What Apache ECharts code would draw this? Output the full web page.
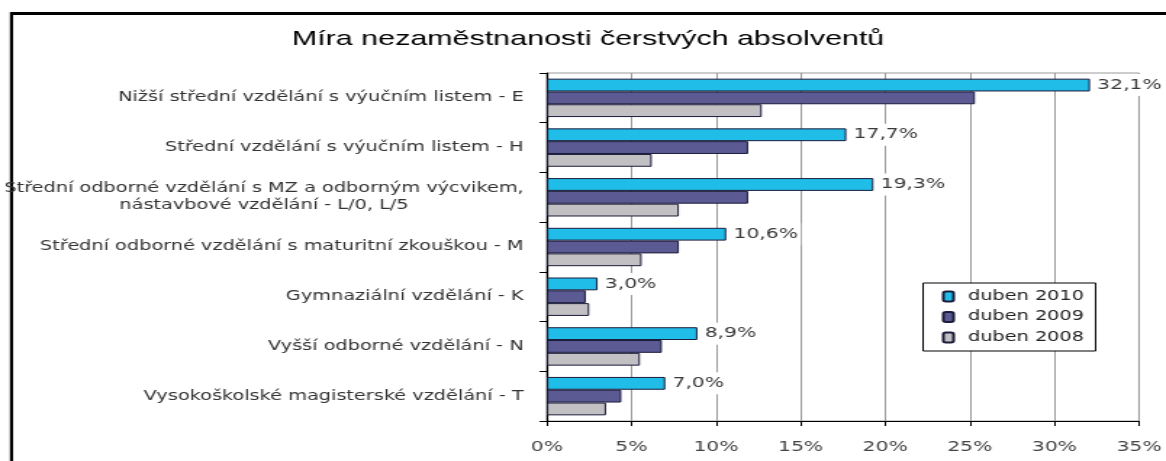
<!DOCTYPE html>
<html>
<head>
<meta charset="utf-8">
<script src="https://cdn.jsdelivr.net/npm/echarts@6/dist/echarts.min.js"></script>
<style>
  html, body { margin: 0; padding: 0; background: #fff; overflow: hidden; }
  /* the chart is laid out narrow and widened horizontally */
  #chart { width: 804px; height: 461px; transform: scaleX(1.4502); transform-origin: 0 0; }
</style>
</head>
<body>
<div id="chart"></div>
<script>
const titleText = 'Míra nezaměstnanosti čerstvých absolventů';
const categories = [
  'Nižší střední vzdělání s výučním listem - E',
  'Střední vzdělání s výučním listem - H',
  'Střední odborné vzdělání s MZ a odborným výcvikem,\nnástavbové vzdělání - L/0, L/5',
  'Střední odborné vzdělání s maturitní zkouškou - M',
  'Gymnaziální vzdělání - K',
  'Vyšší odborné vzdělání - N',
  'Vysokoškolské magisterské vzdělání - T'
];
const seriesNames = ['duben 2010', 'duben 2009', 'duben 2008'];
const duben2010 = [32.1, 17.7, 19.3, 10.6, 3.0, 8.9, 7.0];
const duben2009 = [25.3, 11.9, 11.9, 7.8, 2.3, 6.8, 4.4];
const duben2008 = [12.7, 6.2, 7.8, 5.6, 2.5, 5.5, 3.5];
const xMin = 0, xMax = 35, xStep = 5;

const FONT = 'DejaVu Sans';
const colors = ['#1fbde8', '#5b5a92', '#c2c0c2'];
const barBorder = '#1c1c3c';

function pct(v) { return v.toFixed(1).replace('.', ',') + '%'; }

const chart = echarts.init(document.getElementById('chart'));

function barSeries(name, data, color, withLabel) {
  return {
    name: name,
    type: 'bar',
    data: data,
    barWidth: 12.8,
    barGap: '0%',
    itemStyle: { color: color, borderColor: barBorder, borderWidth: 1 },
    label: {
      show: withLabel,
      position: 'right',
      distance: 3,
      formatter: p => pct(p.value),
      fontFamily: FONT,
      fontSize: 14,
      color: '#3a3a3a',
      backgroundColor: '#ffffff',
      padding: [4, 2]
    },
    animation: false
  };
}

chart.setOption({
  backgroundColor: '#ffffff',
  animation: false,
  graphic: [
    { type: 'line', z: -10, shape: { x1: 7.9, y1: 12, x2: 7.9, y2: 470 }, style: { stroke: '#000', lineWidth: 2.2 } },
    { type: 'line', z: -10, shape: { x1: 7, y1: 13.5, x2: 820, y2: 13.5 }, style: { stroke: '#000', lineWidth: 3 } },
    {
      type: 'text', x: 405.5, y: 39,
      style: {
        text: titleText, align: 'center', verticalAlign: 'middle',
        font: '21px "Liberation Sans"', fill: '#000'
      }
    }
  ],
  grid: {
    left: 373.5, right: 13.3, top: 73, bottom: 40,
    show: true, borderColor: '#9a9a9a', borderWidth: 1, backgroundColor: 'transparent'
  },
  legend: {
    orient: 'vertical',
    left: 636.5, top: 283,
    padding: [7, 8, 7, 13],
    itemWidth: 7, itemHeight: 10, itemGap: 7.5,
    borderColor: '#000', borderWidth: 1, backgroundColor: '#fff',
    textStyle: { fontFamily: FONT, fontSize: 13.3, color: '#222', padding: [0, 0, 0, 5] },
    data: seriesNames
  },
  xAxis: {
    type: 'value',
    min: xMin, max: xMax, interval: xStep,
    axisLine: { show: true, lineStyle: { color: '#000', width: 1.2 } },
    axisTick: { show: true, length: 5, lineStyle: { color: '#000' } },
    axisLabel: { formatter: '{value}%', margin: 19, fontFamily: FONT, fontSize: 14, color: '#444' },
    splitLine: { show: true, lineStyle: { color: '#9a9a9a', width: 1 } }
  },
  yAxis: {
    type: 'category',
    inverse: true,
    data: categories,
    axisLine: { show: true, lineStyle: { color: '#000', width: 1.2 } },
    axisTick: { show: true, length: 5, lineStyle: { color: '#000' } },
    axisLabel: {
      margin: 16,
      fontFamily: FONT, fontSize: 13.3, color: '#333', lineHeight: 17,
      formatter: v => v.split('\n').map(l => '{c|' + l + '}').join('\n'),
      rich: { c: { align: 'center', fontFamily: FONT, fontSize: 13.3, color: '#333', lineHeight: 17 } }
    }
  },
  series: [
    barSeries(seriesNames[0], duben2010, colors[0], true),
    barSeries(seriesNames[1], duben2009, colors[1], false),
    barSeries(seriesNames[2], duben2008, colors[2], false)
  ]
});
</script>
</body>
</html>
